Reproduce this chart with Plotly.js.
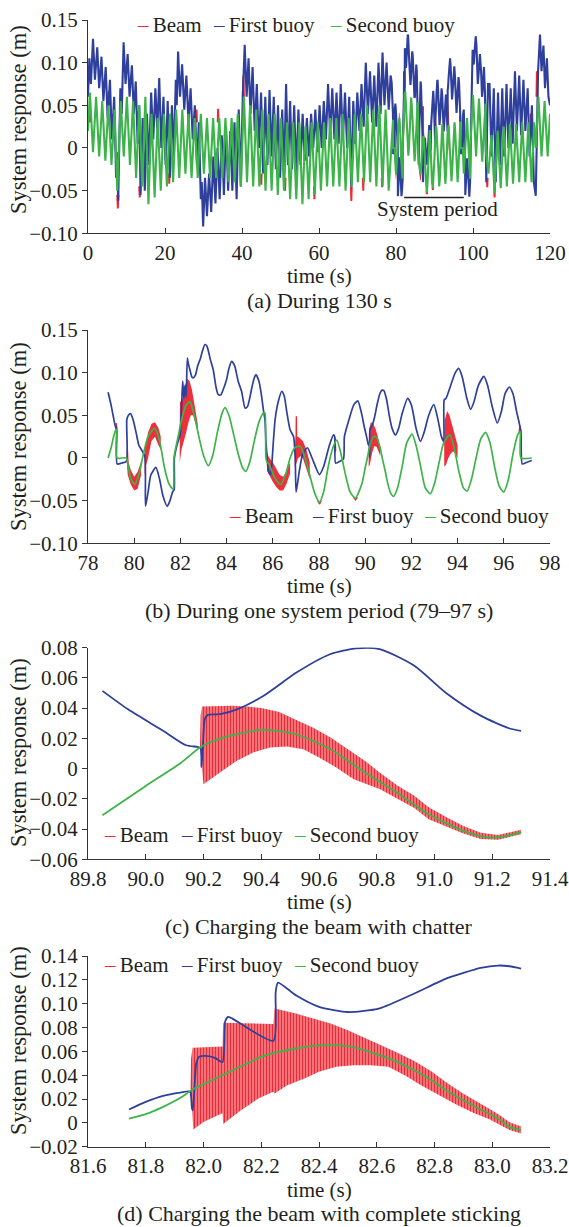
<!DOCTYPE html>
<html><head><meta charset="utf-8">
<script src="https://cdn.plot.ly/plotly-3.0.1.min.js"></script>
<style>html,body{margin:0;padding:0;background:#fff}#chart{width:569px;height:1227px}</style>
</head><body><div id="chart"></div>
<script>
// ---------------- DATA ----------------
const seriesNames = ['Beam', 'First buoy', 'Second buoy'];

// Panel (a) first buoy, 0–78.9 s (peaks/troughs)
const firstBuoyA1 = [
[0.0,0.06],[0.35,0.105],[0.75,0.075],[1.3,0.128],[1.8,0.08],[2.4,0.118],[2.9,0.07],[3.5,0.107],[4.0,0.055],[4.6,0.095],[5.1,0.035],[5.7,0.08],[6.2,0.01],[6.8,0.06],[7.3,-0.035],[7.55,-0.005],[7.85,-0.062],
[8.4,0.07],[8.75,0.04],[9.25,0.124],[9.75,0.075],[10.3,0.11],[10.8,0.06],[11.4,0.097],[11.9,0.04],[12.4,0.078],[12.9,0.005],[13.3,0.05],[13.65,-0.055],
[14.2,0.035],[14.75,-0.05],[15.3,0.04],[15.85,-0.02],[16.4,0.065],[16.95,0.01],[17.5,0.07],[18.0,0.02],[18.5,0.082],[19.05,0.0],[19.6,0.06],[20.15,-0.02],[20.7,0.055],[21.25,-0.035],[21.8,0.05],[22.3,-0.01],
[22.8,0.08],[23.05,0.05],[23.4,0.113],[23.9,0.06],[24.45,0.098],[25.0,0.045],[25.55,0.085],[26.1,0.03],[26.65,0.07],[27.2,0.01],[27.75,0.05],[28.3,-0.02],[28.8,0.03],[29.3,-0.06],[29.55,-0.04],[29.9,-0.092],
[30.4,-0.035],[30.9,-0.08],[31.45,-0.03],[32.0,-0.075],[32.55,-0.01],[33.1,-0.065],[33.65,0.0],[34.2,-0.06],[34.75,0.015],[35.3,-0.055],[35.85,0.025],[36.4,-0.05],[36.95,0.02],[37.5,-0.05],[38.05,0.03],[38.6,-0.06],[39.15,0.045],[39.7,-0.045],
[40.2,0.06],[40.7,0.121],[41.2,0.06],[41.7,0.105],[42.2,0.04],[42.75,0.095],[43.3,0.02],[43.85,0.075],[44.4,0.0],[44.95,0.065],[45.5,-0.03],[46.05,0.06],[46.6,-0.02],[47.15,0.068],[47.7,-0.01],[48.25,0.06],[48.8,-0.025],[49.35,0.05],[49.9,-0.035],[50.45,0.045],[50.95,-0.03],
[51.45,0.075],[51.95,-0.02],[52.5,0.055],[53.0,-0.025],[53.55,0.05],[54.1,-0.03],[54.65,0.045],[55.2,-0.02],[55.75,0.04],[56.3,-0.015],[56.85,0.035],[57.4,-0.01],[57.95,0.04],[58.5,0.0],[59.05,0.045],[59.6,-0.005],
[60.15,0.05],[60.7,0.0],[61.25,0.055],[61.8,0.01],[62.35,0.075],[62.9,0.015],[63.45,0.07],[64.0,0.01],[64.55,0.065],[65.1,0.005],[65.65,0.075],[66.2,0.01],[66.75,0.065],[67.3,0.0],[67.85,0.06],[68.35,-0.045],[68.9,0.055],[69.4,0.005],[69.95,0.065],[70.5,0.02],[71.05,0.075],[71.6,0.025],[72.15,0.1],[72.7,0.04],
[73.25,0.09],[73.8,0.03],[74.35,0.085],[74.9,0.025],[75.45,0.1],[76.0,0.04],[76.5,0.112],[77.0,0.05],[77.55,0.1],[78.1,0.045],[78.6,0.085]
];
// Panel (a) first buoy, 97.2–120 s
const firstBuoyA2 = [
[97.3,-0.002],[97.45,0.04],[97.6,0.045],[97.75,0.02],[97.9,0.005],[98.0,-0.055],[98.2,-0.03],[98.5,-0.012],[98.8,-0.035],[99.05,-0.057],[99.25,-0.04],[99.3,0.0],[99.5,0.025],[99.65,0.06],[99.75,0.088],[99.85,0.07],[99.9,0.115],[100.05,0.1],[100.2,0.098],[100.45,0.115],[100.7,0.131],[100.9,0.12],[101.1,0.095],[101.25,0.075],[101.5,0.09],[101.8,0.11],[102.1,0.09],[102.35,0.06],[102.55,0.07],[102.85,0.095],[103.1,0.065],[103.3,0.0],[103.45,-0.04],[103.65,0.02],[103.9,0.075],
[104.3,0.075],[104.8,-0.01],[105.4,0.07],[105.9,-0.04],[106.5,0.065],[107.0,-0.02],[107.6,0.07],[108.1,-0.01],[108.7,0.075],[109.2,0.0],[109.8,0.07],[110.3,0.005],[110.9,0.09],[111.4,0.02],[112.0,0.085],[112.5,0.015],[113.1,0.08],[113.6,0.02],[114.2,0.07],[114.7,-0.01],[115.3,0.05],[115.8,-0.04],[116.3,-0.056],[116.6,0.0],[116.9,0.09],[117.4,0.133],[117.8,0.09],[118.3,0.12],[118.7,0.07],[119.2,0.105],[119.6,0.06],[120.0,0.05]
];
// Panel (a) second buoy, 0–78.1 s
const secondBuoyA1 = [
[0,0.02],[0.5,0.065],[1.3,-0.005],[2.1,0.06],[2.9,-0.01],[3.7,0.055],[4.5,-0.015],[5.3,0.05],[6.1,-0.02],[6.9,0.045],[7.6,-0.05],[8.5,0.055],[9.3,-0.01],[10.1,0.06],[10.9,-0.02],[11.7,0.055],[12.5,-0.035],[13.3,0.05],[14.1,-0.045],[14.9,0.06],[15.7,-0.066],[16.5,0.04],[17.3,-0.058],[18.1,0.035],[18.9,-0.05],[19.7,0.04],[20.5,-0.045],[21.3,0.04],[22.1,-0.04],[22.9,0.045],[23.7,-0.035],[24.5,0.045],[25.3,-0.03],[26.1,0.04],[26.9,-0.035],[27.7,0.035],[28.5,-0.035],[29.3,0.04],[30.1,-0.03],[30.9,0.035],[31.7,-0.035],[32.5,0.035],[33.3,-0.035],[34.1,0.035],[34.9,-0.035],[35.7,0.035],[36.5,-0.04],[37.3,0.035],[38.1,-0.04],[38.9,0.04],[39.7,-0.045],[40.5,0.06],[41.3,-0.04],[42.1,0.05],[42.9,-0.045],[43.7,0.045],[44.5,-0.045],[45.3,0.045],[46.1,-0.05],[46.9,0.04],[47.7,-0.05],[48.5,0.04],[49.3,-0.055],[50.1,0.035],[50.9,-0.05],[51.7,0.03],[52.5,-0.06],[53.3,0.03],[54.1,-0.06],[54.9,0.03],[55.7,-0.066],[56.5,0.025],[57.3,-0.06],[58.1,0.03],[58.9,-0.055],[59.7,0.03],[60.5,-0.05],[61.3,0.03],[62.1,-0.045],[62.9,0.035],[63.7,-0.045],[64.5,0.035],[65.3,-0.045],[66.1,0.04],[66.9,-0.05],[67.7,0.035],[68.5,-0.045],[69.3,0.04],[70.1,-0.04],[70.9,0.04],[71.7,-0.04],[72.5,0.05],[73.3,-0.04],[74.1,0.045],[74.9,-0.045],[75.7,0.05],[76.5,-0.045],[77.3,0.045],[78.1,-0.05]
];
// Panel (a) second buoy, 97.2–120 s
const secondBuoyA2 = [
[97.35,0.0],[97.6,-0.03],[98.45,0.035],[99.25,-0.036],[99.3,0.0],[100.0,0.062],[100.8,-0.01],[101.55,0.058],[102.4,-0.016],[103.25,0.052],[103.35,-0.005],[104.0,-0.03],[104.8,0.015],[105.6,-0.053],[106.4,0.02],[107.2,-0.047],[108.0,0.025],[108.8,-0.045],[109.6,0.028],[110.4,-0.042],[111.2,0.028],[112.0,-0.04],[112.8,0.03],[113.6,-0.04],[114.4,0.03],[115.2,-0.04],[115.9,0.03],[116.3,0.0],[117.0,0.06],[117.8,-0.01],[118.6,0.055],[119.4,-0.01],[120.0,0.04]
];
// Panel (a) beam spikes visible beyond the buoys
const beamSpikesA = [
[0.3,0.03],[0.5,0.045],[0.7,0.03],null,[5.1,0.05],[5.3,0.066],[5.5,0.05],null,[7.6,-0.055],[7.75,-0.071],[7.9,-0.055],null,
[13.3,-0.045],[13.45,-0.058],[13.6,-0.045],null,[21.0,-0.03],[21.1,-0.042],[21.2,-0.03],null,[28.1,0.03],[28.2,0.045],[28.3,0.03],null,
[33.7,0.03],[33.8,0.046],[33.9,0.03],null,[40.2,0.06],[40.35,0.085],[40.5,0.06],null,[44.9,-0.03],[45.0,-0.043],[45.1,-0.03],null,
[47.0,0.03],[47.1,0.044],[47.2,0.03],null,[51.1,-0.035],[51.2,-0.05],[51.3,-0.035],null,[58.7,-0.045],[58.8,-0.06],[58.9,-0.045],null,
[68.3,-0.045],[68.4,-0.062],[68.5,-0.045],null,[71.4,-0.035],[71.5,-0.05],[71.6,-0.035],null,[76.3,-0.035],[76.4,-0.046],[76.5,-0.035],null,
[103.6,-0.035],[103.7,-0.046],[103.8,-0.035],null,[105.5,-0.045],[105.6,-0.058],[105.7,-0.045],null,[114.9,0.025],[115.0,0.04],[115.1,0.025],null,
[116.5,0.06],[116.6,0.09],[116.7,0.06]
];

// Panel (b) one system period, 78.9–97.2 s
const firstBuoyB = [
[78.87,0.077],[79.0,0.062],[79.1,0.048],[79.2,0.036],[79.24,0.036],[79.26,-0.007],[79.45,-0.006],[79.66,-0.004],[79.68,0.045],[79.75,0.05],[79.84,0.052],[79.95,0.045],[80.08,0.03],[80.2,0.015],[80.31,0.0098],[80.46,0.002],[80.49,-0.0566],[80.6,-0.04],[80.72,-0.02],[80.94,-0.011],
[81.1,-0.025],[81.25,-0.045],[81.43,-0.0566],[81.55,-0.05],[81.66,-0.04],[81.73,-0.037],[81.74,0.0],[81.85,0.015],[81.98,0.027],[82.05,0.06],[82.1,0.09],[82.15,0.07],[82.2,0.085],[82.25,0.072],[82.3,0.117],[82.35,0.11],[82.41,0.1035],[82.5,0.095],[82.56,0.094],[82.65,0.097],[82.75,0.108],[82.87,0.117],[82.95,0.125],[83.06,0.133],[83.15,0.131],[83.3,0.115],[83.42,0.1035],[83.55,0.082],[83.64,0.0742],[83.75,0.074],[83.85,0.08],[84.0,0.092],[84.1,0.105],[84.22,0.1133],[84.35,0.108],[84.5,0.09],[84.65,0.078],[84.8,0.0586],[84.9,0.06],[85.0,0.07],[85.09,0.082],[85.2,0.094],[85.27,0.0977],[85.4,0.09],[85.5,0.075],[85.6,0.055],[85.66,0.045],[85.7,0.02],[85.74,0.006],[85.81,-0.0156],[85.9,-0.0195],[85.95,-0.01],[86.03,0.0215],[86.1,0.045],[86.24,0.0664],[86.39,0.078],[86.5,0.072],[86.6,0.055],[86.75,0.033],[86.9,0.025],[86.97,0.0],[87.01,-0.04],[87.15,-0.015],[87.3,0.005],[87.5,0.012],[87.7,0.0],[88.02,-0.0195],[88.2,-0.01],[88.45,0.015],[88.63,0.027],[88.68,0.025],[88.72,-0.006],[88.9,-0.004],[89.06,-0.001],[89.1,0.025],[89.3,0.045],[89.5,0.062],[89.68,0.067],[89.85,0.0514],[89.94,0.039],[90.06,0.025],[90.14,0.0154],[90.18,0.0143],[90.193,0.001],[90.205,0.033],[90.257,0.036],[90.314,0.039],[90.407,0.048],[90.522,0.0635],[90.638,0.0756],[90.73,0.0795],[90.81,0.079],[90.93,0.068],[91.04,0.05],[91.16,0.035],[91.31,0.027],[91.45,0.035],[91.6,0.052],[91.84,0.07],[92.0,0.062],[92.2,0.035],[92.39,0.0195],[92.55,0.03],[92.75,0.05],[92.97,0.0625],[93.15,0.045],[93.3,0.025],[93.4,0.0195],[93.42,0.068],[93.5,0.07],[93.7,0.085],[93.9,0.1],[94.05,0.105],[94.2,0.095],[94.4,0.07],[94.56,0.057],[94.7,0.065],[94.9,0.085],[95.14,0.0957],[95.3,0.085],[95.5,0.06],[95.72,0.041],[95.9,0.055],[96.05,0.075],[96.24,0.0832],[96.4,0.075],[96.55,0.055],[96.74,0.031],[96.8,-0.007],[97.0,-0.005],[97.21,-0.003]
];
const secondBuoyB = [
[78.87,0.0],[79.0,0.012],[79.1,0.024],[79.2,0.033],[79.23,0.033],[79.25,0.0],[79.66,0.0],[79.75,-0.012],[79.85,-0.024],[80.02,-0.031],[80.2,-0.02],[80.4,0.005],[80.6,0.025],[80.89,0.035],[81.1,0.02],[81.3,-0.01],[81.5,-0.03],[81.66,-0.036],[81.7,-0.036],[81.72,0.0],[81.9,0.025],[82.1,0.05],[82.25,0.062],[82.41,0.066],[82.6,0.05],[82.8,0.025],[83.0,0.003],[83.21,-0.009],[83.4,0.003],[83.6,0.03],[83.8,0.052],[83.93,0.059],[84.1,0.05],[84.3,0.028],[84.5,0.005],[84.7,-0.012],[84.83,-0.0156],[85.0,-0.005],[85.2,0.02],[85.4,0.042],[85.6,0.053],[85.66,0.0527],[85.7,0.0],[85.74,-0.004],[85.85,-0.008],[86.0,-0.018],[86.15,-0.026],[86.35,-0.031],[86.55,-0.02],[86.75,0.0],[86.95,0.012],[87.18,0.0137],[87.4,0.0],[87.6,-0.02],[87.8,-0.04],[88.02,-0.052],[88.2,-0.04],[88.4,-0.01],[88.6,0.012],[88.77,0.021],[88.95,0.005],[89.15,-0.02],[89.35,-0.04],[89.57,-0.047],[89.85,-0.0309],[90.0,-0.0115],[90.12,0.0035],[90.193,0.0146],[90.29,0.0216],[90.407,0.0256],[90.52,0.0227],[90.64,0.0128],[90.75,-0.0015],[90.87,-0.0159],[90.98,-0.0302],[91.1,-0.0412],[91.23,-0.045],[91.4,-0.035],[91.6,-0.01],[91.8,0.018],[92.03,0.028],[92.2,0.015],[92.4,-0.01],[92.6,-0.035],[92.82,-0.042],[93.0,-0.03],[93.2,-0.005],[93.4,0.018],[93.66,0.027],[93.85,0.012],[94.05,-0.015],[94.25,-0.035],[94.41,-0.039],[94.6,-0.025],[94.8,0.0],[95.0,0.022],[95.21,0.03],[95.4,0.018],[95.6,-0.01],[95.8,-0.033],[96.0,-0.04],[96.2,-0.025],[96.4,0.005],[96.6,0.027],[96.71,0.031],[96.74,0.0],[97.21,0.0]
];
// Panel (b) beam chatter bands: upper / lower envelopes
const beamB1Up = [[79.68,0.005],[79.71,0.025],[79.76,-0.005],[79.85,-0.014],[80.0,-0.022],[80.15,-0.016],[80.3,-0.004]];
const beamB1Lo = [[79.68,-0.005],[79.72,-0.02],[79.85,-0.031],[80.0,-0.038],[80.15,-0.036],[80.3,-0.02]];
const beamB2Up = [[80.45,0.01],[80.5,0.018],[80.6,0.03],[80.75,0.04],[80.9,0.042],[81.05,0.035],[81.15,0.025]];
const beamB2Lo = [[80.45,-0.02],[80.5,-0.01],[80.6,0.0],[80.75,0.02],[80.9,0.025],[81.05,0.015],[81.15,0.01]];
const beamB3Up = [[81.97,0.03],[81.98,0.065],[82.1,0.07],[82.2,0.085],[82.3,0.093],[82.4,0.09],[82.5,0.08],[82.6,0.065],[82.7,0.05],[82.75,0.04]];
const beamB3Lo = [[81.97,-0.005],[82.05,0.01],[82.15,0.02],[82.25,0.03],[82.35,0.042],[82.45,0.05],[82.55,0.05],[82.65,0.04],[82.75,0.032]];
const beamB4Up = [[85.75,0.006],[85.85,0.0],[86.0,-0.005],[86.15,-0.012],[86.3,-0.02],[86.45,-0.022],[86.6,-0.015],[86.75,-0.005]];
const beamB4Lo = [[85.75,-0.015],[85.85,-0.02],[86.0,-0.028],[86.15,-0.034],[86.3,-0.038],[86.45,-0.038],[86.6,-0.03],[86.75,-0.018]];
const beamB5Up = [[86.95,0.01],[87.0,0.025],[87.1,0.025],[87.2,0.023],[87.3,0.02],[87.45,0.01],[87.6,-0.005]];
const beamB5Lo = [[86.95,-0.01],[87.0,-0.008],[87.1,0.0],[87.2,0.002],[87.3,0.0],[87.45,-0.012],[87.6,-0.025]];
const beamB6Up = [[90.15,0.0],[90.18,0.035],[90.25,0.042],[90.35,0.04],[90.45,0.034],[90.55,0.025],[90.65,0.012]];
const beamB6Lo = [[90.15,-0.01],[90.2,-0.008],[90.3,0.006],[90.4,0.014],[90.5,0.013],[90.6,0.006],[90.65,0.002]];
const beamB7Up = [[93.42,0.02],[93.45,0.045],[93.55,0.055],[93.65,0.05],[93.75,0.04],[93.85,0.03],[94.0,0.015]];
const beamB7Lo = [[93.42,-0.01],[93.5,-0.008],[93.6,0.0],[93.7,0.005],[93.8,0.008],[93.9,0.005],[94.0,0.0]];
const beamSpikesB = [[79.2,0.034],[79.22,0.041],[79.24,0.036],null,[87.0,-0.005],[87.02,0.049],[87.04,0.0],null,[88.68,0.006],[88.7,0.024],[88.72,0.008],null,[96.66,0.03],[96.7,0.038],[96.74,0.03],null,[87.95,-0.05],[88.02,-0.054],[88.1,-0.05],null,[89.5,-0.046],[89.58,-0.049],[89.66,-0.046]];

// Panel (c) charging with chatter, 89.85–91.3 s
const firstBuoyC = [[89.85,0.0514],[89.94,0.039],[90.06,0.025],[90.14,0.0154],[90.18,0.0143],[90.19,0.0135],[90.193,0.001],[90.198,0.015],[90.205,0.033],[90.215,0.0355],[90.257,0.036],[90.314,0.039],[90.407,0.048],[90.522,0.0635],[90.638,0.0756],[90.73,0.0795],[90.81,0.079],[90.93,0.068],[91.04,0.05],[91.16,0.035],[91.26,0.0265],[91.3,0.025]];
const secondBuoyC = [[89.85,-0.0309],[90.0,-0.0115],[90.12,0.0035],[90.193,0.0146],[90.29,0.0216],[90.407,0.0256],[90.52,0.0227],[90.64,0.0128],[90.75,-0.0015],[90.87,-0.0159],[90.98,-0.0302],[91.1,-0.0412],[91.19,-0.0456],[91.26,-0.0441],[91.3,-0.042]];
const beamCUp = [[90.188,0.0146],[90.19,0.035],[90.195,0.041],[90.3,0.0415],[90.35,0.041],[90.4,0.04],[90.46,0.0375],[90.52,0.0325],[90.58,0.027],[90.64,0.0205],[90.7,0.013],[90.76,0.005],[90.81,-0.0026],[90.87,-0.011],[90.93,-0.018],[90.98,-0.0255],[91.04,-0.032],[91.1,-0.038],[91.16,-0.0425],[91.22,-0.044],[91.3,-0.0405]];
const beamCLo = [[90.188,0.0146],[90.2,-0.0104],[90.257,-0.0026],[90.314,0.005],[90.372,0.0106],[90.43,0.0139],[90.488,0.0146],[90.546,0.0128],[90.6,0.0073],[90.66,0.0007],[90.72,-0.007],[90.81,-0.0135],[90.87,-0.0195],[90.93,-0.026],[90.98,-0.0335],[91.04,-0.0385],[91.1,-0.043],[91.16,-0.0465],[91.22,-0.047],[91.3,-0.0435]];

// Panel (d) charging with complete sticking, 81.74–83.1 s
const firstBuoyD = [[81.742,0.0112],[81.8,0.0176],[81.86,0.0227],[81.92,0.0254],[81.953,0.0263],[81.96,0.012],[81.963,0.0105],[81.975,0.05],[81.985,0.0555],[82.01,0.0562],[82.04,0.0545],[82.066,0.051],[82.075,0.085],[82.085,0.089],[82.1,0.0875],[82.242,0.0688],[82.25,0.11],[82.258,0.1177],[82.32,0.107],[82.4,0.0973],[82.5,0.093],[82.55,0.0937],[82.61,0.096],[82.73,0.1085],[82.84,0.121],[82.9,0.1258],[82.96,0.13],[83.02,0.132],[83.06,0.1314],[83.1,0.1295]];
const secondBuoyD = [[81.742,0.0036],[81.8,0.0073],[81.86,0.0134],[81.92,0.021],[81.962,0.028],[82.03,0.0358],[82.09,0.0428],[82.15,0.0498],[82.2,0.0554],[82.26,0.0596],[82.32,0.0624],[82.38,0.0646],[82.44,0.0652],[82.5,0.0643],[82.55,0.0615],[82.61,0.0568],[82.67,0.0512],[82.73,0.0442],[82.79,0.0358],[82.84,0.0274],[82.9,0.019],[82.96,0.0112],[83.02,0.0036],[83.06,-0.0034],[83.1,-0.006]];
const beamDUp = [[81.955,0.03],[81.957,0.054],[81.962,0.063],[82.066,0.064],[82.068,0.084],[82.242,0.083],[82.246,0.096],[82.32,0.0917],[82.38,0.0875],[82.44,0.0833],[82.5,0.0777],[82.555,0.0716],[82.61,0.066],[82.67,0.059],[82.73,0.052],[82.79,0.043],[82.84,0.034],[82.9,0.0245],[82.96,0.016],[83.02,0.0075],[83.06,0.0005],[83.1,-0.003]];
const beamDLo = [[81.955,0.028],[81.965,-0.0056],[82.0,0.0008],[82.05,0.0064],[82.066,0.008],[82.068,-0.001],[82.13,0.0106],[82.19,0.0204],[82.242,0.026],[82.246,0.0246],[82.29,0.0316],[82.35,0.0372],[82.4,0.0428],[82.46,0.047],[82.52,0.0484],[82.58,0.0484],[82.64,0.047],[82.7,0.0395],[82.75,0.032],[82.81,0.024],[82.87,0.016],[82.93,0.009],[82.99,0.003],[83.06,-0.006],[83.1,-0.009]];

// Ticks
const xTicksA = [0,20,40,60,80,100,120];
const xTicksB = [78,80,82,84,86,88,90,92,94,96,98];
const xTicksC = [89.8,90.0,90.2,90.4,90.6,90.8,91.0,91.2,91.4];
const xTicksD = [81.6,81.8,82.0,82.2,82.4,82.6,82.8,83.0,83.2];
const yTicksAB = [-0.10,-0.05,0,0.05,0.10,0.15];
const yTicksC = [-0.06,-0.04,-0.02,0,0.02,0.04,0.06,0.08];
const yTicksD = [-0.02,0,0.02,0.04,0.06,0.08,0.10,0.12,0.14];
const captions = ['(a) During 130 s','(b) During one system period (79\u201397 s)','(c) Charging the beam with chatter','(d) Charging the beam with complete sticking'];
const xTitle = 'time (s)';
const yTitle = 'System response (m)';
const periodLabel = 'System period';
const periodSpan = [82.1, 97.6];
const periodLevel = -0.058;

// ---------------- DRAWING ----------------
const C_BEAM = '#ec2a35', C_B1 = '#2e3f9c', C_B2 = '#3cb44a';
const W = 569, H = 1227, L = 88, R = 19, PW = W - L - R;
const FONT = 'Liberation Serif, Times New Roman, serif';
const TXT = '#231f20';
const px = v => (v - L) / PW;
const py = v => 1 - v / H;
const X = a => a.map(p => p ? p[0] : null);
const Y = a => a.map(p => p ? p[1] : null);

function line(data, ax, color, width, name, smooth) {
  const ln = {color:color, width:width};
  if (smooth) { ln.shape = 'spline'; ln.smoothing = smooth; }
  return {type:'scatter', mode:'lines', x:X(data), y:Y(data), xaxis:'x'+ax, yaxis:'y'+ax,
    line:ln, name:name, showlegend:false, hoverinfo:'skip', connectgaps:false};
}
function band(up, lo, ax, pattern) {
  const pts = up.concat(lo.slice().reverse());
  const t = {type:'scatter', mode:'lines', x:X(pts), y:Y(pts), xaxis:'x'+ax, yaxis:'y'+ax,
    fill:'toself', line:{width:0, color:C_BEAM}, name:seriesNames[0], showlegend:false, hoverinfo:'skip'};
  if (pattern) {
    t.fillcolor = 'rgba(243,140,146,0.65)';
    t.fillpattern = {shape:'|', fgcolor:C_BEAM, bgcolor:'rgba(243,140,146,0.65)', size:3, solidity:0.65};
  } else {
    t.fillcolor = 'rgba(236,30,42,0.92)';
  }
  return t;
}
const bandsB = [[beamB1Up,beamB1Lo],[beamB2Up,beamB2Lo],[beamB3Up,beamB3Lo],[beamB4Up,beamB4Lo],[beamB5Up,beamB5Lo],[beamB6Up,beamB6Lo],[beamB7Up,beamB7Lo]];

const traces = [];
// panel a
traces.push(line(beamSpikesA, '', C_BEAM, 2, seriesNames[0]));
bandsB.forEach(b => traces.push(band(b[0], b[1], '', false)));
traces.push(line(beamSpikesB, '', C_BEAM, 2, seriesNames[0]));
traces.push(line(firstBuoyA1.concat(firstBuoyB, firstBuoyA2), '', C_B1, 2.1, seriesNames[1]));
traces.push(line(secondBuoyA1.concat(secondBuoyB, secondBuoyA2), '', C_B2, 2.1, seriesNames[2]));
// panel b
bandsB.forEach(b => traces.push(band(b[0], b[1], '2', false)));
traces.push(line(beamSpikesB, '2', C_BEAM, 1.4, seriesNames[0]));
traces.push(line(firstBuoyB, '2', C_B1, 1.7, seriesNames[1], 0.6));
traces.push(line(secondBuoyB, '2', C_B2, 1.7, seriesNames[2], 0.6));
// panel c
traces.push(band(beamCUp, beamCLo, '3', true));
traces.push(line(firstBuoyC, '3', C_B1, 1.8, seriesNames[1], 0.7));
traces.push(line(secondBuoyC, '3', C_B2, 1.8, seriesNames[2], 0.7));
// panel d
traces.push(band(beamDUp, beamDLo, '4', true));
traces.push(line(firstBuoyD, '4', C_B1, 1.8, seriesNames[1], 0.6));
traces.push(line(secondBuoyD, '4', C_B2, 1.8, seriesNames[2], 0.7));

const fmtY = v => v === 0 ? '0' : (v < 0 ? '\u2212' : '') + Math.abs(v).toFixed(2);
const boxes = [[20,233.3],[330,543.3],[647.6,859.3],[956,1146.7]];
function xaxis(range, ticks, dec, anchor) {
  return {domain:[0,1], range:range, anchor:anchor, tickvals:ticks,
    ticktext:ticks.map(v => v.toFixed(dec)), ticks:'inside', ticklen:5, tickwidth:1, tickcolor:'#333',
    showline:true, linecolor:'#333', linewidth:1, showgrid:false, zeroline:false,
    tickfont:{family:FONT, size:21, color:TXT}};
}
function yaxis(range, ticks, box, anchor) {
  return {domain:[py(box[1]), py(box[0])], range:range, anchor:anchor, tickvals:ticks,
    ticktext:ticks.map(fmtY), ticks:'outside', ticklen:5, tickwidth:1, tickcolor:'#333',
    showline:true, linecolor:'#333', linewidth:1, showgrid:false, zeroline:false,
    tickfont:{family:FONT, size:21, color:TXT}};
}

const ann = [];
const textAnn = (text, x, y, size, extra) => Object.assign({text:text, xref:'paper', yref:'paper', x:px(x), y:py(y),
  showarrow:false, xanchor:'center', yanchor:'middle', borderpad:0, font:{family:FONT, size:size, color:TXT}}, extra || {});
const yTitY = [120, 437, 753, 1041];
for (let i = 0; i < 4; i++) {
  const axisY = boxes[i][1];
  ann.push(textAnn(captions[i], 319, axisY + 67, 22));
  ann.push(textAnn(xTitle, 319, axisY + 43, 21));
  ann.push(textAnn(yTitle, 18, yTitY[i], 22.5, {textangle:-90}));
}
// legends (dash + label) per panel
const legPos = [[[136,211.5,329],25],[[228,311,423],516],[[102.5,180,292.5],835],[[102.5,180,292.5],965]];
const legCols = [C_BEAM, C_B1, C_B2];
legPos.forEach(lp => {
  lp[0].forEach((x, k) => ann.push(textAnn('<span style="color:' + legCols[k] + '">\u2013</span>\u2009' + seriesNames[k], x, lp[1], 21, {xanchor:'left'})));
});
ann.push(textAnn(periodLabel, 437, 209, 21));

const layout = {
  width:W, height:H, margin:{l:L, r:R, t:0, b:0}, paper_bgcolor:'#fff', plot_bgcolor:'rgba(0,0,0,0)',
  showlegend:false, hovermode:false, font:{family:FONT, size:21, color:TXT},
  xaxis: xaxis([0,120], xTicksA, 0, 'y'),
  yaxis: yaxis([-0.10,0.15], yTicksAB, boxes[0], 'x'),
  xaxis2: xaxis([78,98], xTicksB, 0, 'y2'),
  yaxis2: yaxis([-0.10,0.15], yTicksAB, boxes[1], 'x2'),
  xaxis3: xaxis([89.8,91.4], xTicksC, 1, 'y3'),
  yaxis3: yaxis([-0.06,0.08], yTicksC, boxes[2], 'x3'),
  xaxis4: xaxis([81.6,83.2], xTicksD, 1, 'y4'),
  yaxis4: yaxis([-0.02,0.14], yTicksD, boxes[3], 'x4'),
  annotations: ann,
  shapes: [{type:'line', xref:'x', yref:'y', x0:periodSpan[0], x1:periodSpan[1], y0:periodLevel, y1:periodLevel, line:{color:'#222', width:1.6}}]
};
Plotly.newPlot('chart', traces, layout, {staticPlot:true, displayModeBar:false});
</script></body></html>
